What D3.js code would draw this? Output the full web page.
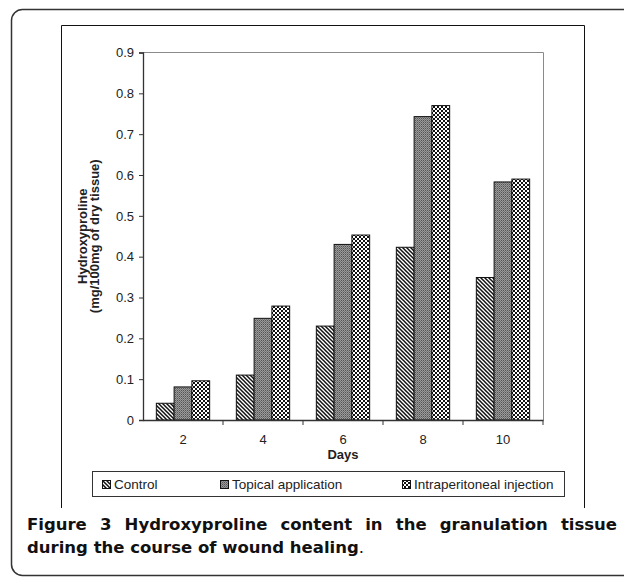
<!DOCTYPE html>
<html>
<head>
<meta charset="utf-8">
<script src="https://cdn.jsdelivr.net/npm/d3@7"></script>
<style>
  html, body { margin: 0; padding: 0; background: #fff; }
  svg { display: block; }
</style>
</head>
<body>
<div id="root"></div>
<script>
  // chart values
  var days = ['2', '4', '6', '8', '10'];
  var seriesNames = ['Control', 'Topical application', 'Intraperitoneal injection'];
  var control = [0.041, 0.11, 0.23, 0.423, 0.349];
  var topical = [0.081, 0.249, 0.43, 0.743, 0.583];
  var intra = [0.096, 0.279, 0.453, 0.77, 0.59];
  var yTicks = [0, 0.1, 0.2, 0.3, 0.4, 0.5, 0.6, 0.7, 0.8, 0.9];
  var captionLine1 = ['Figure', '3', 'Hydroxyproline', 'content', 'in', 'the', 'granulation', 'tissue'];
  var captionLine2 = 'during the course of wound healing';

  var width = 624;
  var height = 577;
  var plot = {left: 143, right: 543, top: 52.5, bottom: 420};
  var armFont = '"Liberation Sans", Arial, sans-serif';
  var capFont = '"DejaVu Sans", Verdana, sans-serif';

  var svg = d3.select('#root')
    .append('svg')
      .attr('width', width)
      .attr('height', height);

  // fill patterns
  var defs = svg.append('defs');
  var p1 = defs.append('pattern')
    .attr('id', 'pat-control')
    .attr('patternUnits', 'userSpaceOnUse')
    .attr('width', 4).attr('height', 4);
  p1.append('rect').attr('width', 4).attr('height', 4).attr('fill', '#fff');
  p1.append('path')
    .attr('d', 'M-1,-1L5,5M-1,3L1,5M3,-1L5,1')
    .attr('stroke', '#111').attr('stroke-width', 1.5);

  var p2 = defs.append('pattern')
    .attr('id', 'pat-topical')
    .attr('patternUnits', 'userSpaceOnUse')
    .attr('width', 2).attr('height', 2);
  p2.append('rect').attr('width', 2).attr('height', 2).attr('fill', '#9a9a9a');
  p2.append('rect').attr('width', 1).attr('height', 1).attr('fill', '#555');
  p2.append('rect').attr('x', 1).attr('y', 1).attr('width', 1).attr('height', 1).attr('fill', '#747474');

  var p3 = defs.append('pattern')
    .attr('id', 'pat-intra')
    .attr('patternUnits', 'userSpaceOnUse')
    .attr('width', 4).attr('height', 4);
  p3.append('rect').attr('width', 4).attr('height', 4).attr('fill', '#fff');
  p3.append('rect').attr('width', 2).attr('height', 2).attr('fill', '#111');
  p3.append('rect').attr('x', 2).attr('y', 2).attr('width', 2).attr('height', 2).attr('fill', '#111');

  var fills = ['url(#pat-control)', 'url(#pat-topical)', 'url(#pat-intra)'];

  // outer figure frame (runs off the right edge)
  svg.append('rect')
    .attr('x', 11.5).attr('y', 9.5)
    .attr('width', 700).attr('height', 566)
    .attr('rx', 11)
    .attr('fill', 'none')
    .attr('stroke', '#333')
    .attr('stroke-width', 1.5);

  // border of the embedded chart image
  svg.append('path')
    .attr('d', 'M61.5,508V25.5H584.5V508')
    .attr('fill', 'none')
    .attr('stroke', '#111');

  // scales
  var x0 = d3.scaleBand().domain(days).range([plot.left, plot.right]);
  var x1 = d3.scaleBand().domain(seriesNames).range([0, x0.bandwidth()]).paddingOuter(0.75);
  var y = d3.scaleLinear().domain([0, 0.9]).range([plot.bottom, plot.top]);

  var rows = days.map(function(d, i) {
    return {day: d, values: [control[i], topical[i], intra[i]]};
  });

  // plot area border (top and right)
  svg.append('path')
    .attr('d', 'M' + plot.left + ',' + y(0.9) + 'H' + (plot.right + 0.5) + 'V' + plot.bottom)
    .attr('fill', 'none')
    .attr('stroke', '#8a8a8a');

  // bars
  var groups = svg.selectAll('g.day')
    .data(rows)
    .enter()
    .append('g')
      .attr('class', 'day')
      .attr('transform', function(d) { return 'translate(' + x0(d.day) + ',0)'; });

  groups.selectAll('rect')
    .data(function(d) {
      return d.values.map(function(v, j) { return {name: seriesNames[j], v: v, j: j}; });
    })
    .enter()
    .append('rect')
      .attr('x', function(d) { return x1(d.name); })
      .attr('y', function(d) { return y(d.v); })
      .attr('width', x1.bandwidth())
      .attr('height', function(d) { return y(0) - y(d.v); })
      .attr('fill', function(d) { return fills[d.j]; })
      .attr('stroke', '#111')
      .attr('stroke-width', 1);

  // y axis
  var yAxis = svg.append('g')
    .attr('transform', 'translate(' + plot.left + ',0)')
    .call(d3.axisLeft(y)
      .tickValues(yTicks)
      .tickSize(4)
      .tickPadding(5)
      .tickFormat(function(d) { return d === 0 ? '0' : d3.format('.1f')(d); }));
  yAxis.select('.domain').attr('stroke', '#333').attr('stroke-width', 1.3);
  yAxis.selectAll('.tick line').attr('stroke', '#333');
  yAxis.selectAll('text')
    .attr('font-family', armFont)
    .attr('font-size', 13)
    .attr('fill', '#222');

  // x axis: labels centred, ticks at category boundaries
  var xAxis = svg.append('g')
    .attr('transform', 'translate(0,' + plot.bottom + ')')
    .call(d3.axisBottom(x0).tickSize(0).tickPadding(15));
  xAxis.select('.domain').attr('stroke', '#333').attr('stroke-width', 1.3);
  xAxis.selectAll('text')
    .attr('font-family', armFont)
    .attr('font-size', 13)
    .attr('fill', '#222');

  var bounds = days.map(function(d) { return x0(d); }).concat([x0(days[days.length - 1]) + x0.bandwidth()]);
  svg.selectAll('line.bound')
    .data(bounds.slice(1))
    .enter()
    .append('line')
      .attr('class', 'bound')
      .attr('x1', function(d) { return d; })
      .attr('x2', function(d) { return d; })
      .attr('y1', plot.bottom)
      .attr('y2', plot.bottom + 5)
      .attr('stroke', '#333');

  // axis titles
  svg.append('text')
    .attr('x', (plot.left + plot.right) / 2)
    .attr('y', 459)
    .attr('text-anchor', 'middle')
    .attr('font-family', armFont)
    .attr('font-size', 13)
    .attr('font-weight', 'bold')
    .attr('fill', '#222')
    .text('Days');

  var yMid = (y(0) + y(0.9)) / 2;
  var yTitle = svg.append('text')
    .attr('transform', 'translate(0,' + yMid + ') rotate(-90)')
    .attr('text-anchor', 'middle')
    .attr('font-family', armFont)
    .attr('font-size', 13)
    .attr('font-weight', 'bold')
    .attr('fill', '#222');
  yTitle.append('tspan').attr('x', 0).attr('y', 87).text('Hydroxyproline');
  yTitle.append('tspan').attr('x', 0).attr('y', 99).text('(mg/100mg of dry tissue)');

  // legend
  svg.append('rect')
    .attr('x', 92.5).attr('y', 471.5)
    .attr('width', 472).attr('height', 25)
    .attr('fill', '#fff')
    .attr('stroke', '#333');

  var legendX = [102, 220, 402];
  var items = svg.selectAll('g.legend')
    .data(seriesNames)
    .enter()
    .append('g')
      .attr('class', 'legend')
      .attr('transform', function(d, i) { return 'translate(' + legendX[i] + ',484)'; });
  items.append('rect')
    .attr('x', 0.5).attr('y', -3.5)
    .attr('width', 8).attr('height', 8)
    .attr('fill', function(d, i) { return fills[i]; })
    .attr('stroke', '#111');
  items.append('text')
    .attr('x', 12)
    .attr('y', 0)
    .attr('dy', '0.35em')
    .attr('font-family', armFont)
    .attr('font-size', 13.5)
    .attr('fill', '#222')
    .text(function(d) { return d; });

  // caption, first line justified between the frame margins
  var capLeft = 27;
  var capRight = 617;
  var capSize = 16.5;
  var line1 = svg.append('g');
  var words = line1.selectAll('text')
    .data(captionLine1)
    .enter()
    .append('text')
      .attr('y', 530)
      .attr('font-family', capFont)
      .attr('font-size', capSize)
      .attr('font-weight', 'bold')
      .attr('fill', '#111')
      .text(function(d) { return d; });
  var widths = [];
  words.each(function() { widths.push(this.getComputedTextLength()); });
  var gap = (capRight - capLeft - d3.sum(widths)) / (widths.length - 1);
  var cursor = capLeft;
  words.attr('x', function(d, i) {
    var pos = cursor;
    cursor += widths[i] + gap;
    return pos;
  });

  var line2 = svg.append('text')
    .attr('x', capLeft)
    .attr('y', 553)
    .attr('font-family', capFont)
    .attr('font-size', capSize)
    .attr('fill', '#111');
  line2.append('tspan').attr('font-weight', 'bold').text(captionLine2);
  line2.append('tspan').attr('font-weight', 'normal').text('.');
</script>
</body>
</html>
